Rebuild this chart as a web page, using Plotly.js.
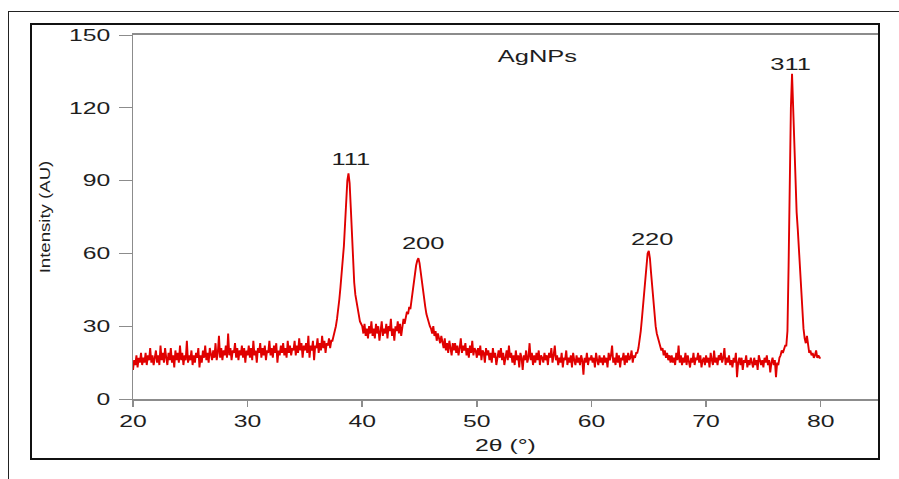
<!DOCTYPE html>
<html>
<head>
<meta charset="utf-8">
<script src="https://cdn.plot.ly/plotly-3.0.1.min.js"></script>
<style>
  html, body { margin: 0; padding: 0; background: #ffffff; }
  #wrap { position: relative; width: 899px; height: 479px; overflow: hidden; background: #ffffff; }
  #chart { position: absolute; left: 0; top: 0; width: 899px; height: 479px; }
  #outer { position: absolute; left: 8px; top: 11px; width: 900px; height: 500px;
           border-left: 1px solid #222; border-top: 1px solid #222; pointer-events: none; }
  #inner { position: absolute; left: 30px; top: 23px; width: 850px; height: 437px; box-sizing: border-box;
           border: 2px solid #111; pointer-events: none; }
</style>
</head>
<body>
<div id="wrap">
  <div id="chart"></div>
  <div id="outer"></div>
  <div id="inner"></div>
</div>
<script>
// ---- data ----
const START_2THETA = 20;     // first 2θ value (°)
const STEP_2THETA = 0.1;     // sampling step (°)
// intensity (AU), one row per degree from 20° to 80°
const intensity = [
  12, 16, 14, 18, 13, 17, 15, 19, 14, 17,
  15, 19, 14, 18, 16, 21, 15, 18, 14, 17,
  20, 15, 18, 14, 22, 16, 19, 15, 21, 17,
  14, 19, 16, 21, 15, 18, 13, 20, 16, 19,
  15, 22, 16, 19, 14, 18, 16, 24, 15, 18,
  16, 20, 14, 18, 15, 19, 17, 21, 13, 18,
  15, 20, 17, 22, 16, 19, 15, 21, 18, 16,
  20, 17, 23, 16, 19, 26, 17, 21, 16, 20,
  18, 22, 17, 27, 18, 21, 16, 20, 19, 23,
  17, 21, 16, 20, 18, 22, 17, 21, 15, 20,
  18, 22, 17, 21, 16, 24, 18, 20, 15, 21,
  19, 23, 17, 21, 18, 22, 16, 20, 19, 24,
  18, 21, 17, 22, 19, 23, 15, 20, 18, 22,
  19, 23, 18, 21, 17, 24, 19, 22, 18, 21,
  20, 24, 18, 22, 19, 25, 20, 23, 17, 22,
  20, 23, 19, 26, 17, 22, 20, 24, 16, 22,
  21, 25, 19, 23, 20, 26, 21, 24, 19, 23,
  22, 25, 21, 24, 24, 26, 27, 30, 33, 36,
  41, 46, 51, 56, 63, 72, 82, 90, 93, 89,
  79, 66, 55, 48, 43, 40, 36, 34, 32, 31,
  30, 27, 31, 26, 29, 25, 30, 27, 32, 26,
  29, 25, 31, 27, 30, 24, 28, 32, 26, 29,
  27, 31, 25, 30, 28, 33, 26, 29, 24, 30,
  28, 32, 27, 31, 26, 30, 33, 31, 34, 36,
  35, 38, 37, 41, 44, 48, 52, 55, 57, 58,
  56, 52, 49, 45, 41, 38, 35, 33, 31, 30,
  29, 27, 30, 26, 28, 24, 27, 25, 23, 26,
  24, 21, 25, 20, 23, 19, 24, 21, 18, 23,
  20, 23, 19, 22, 18, 21, 25, 19, 22, 20,
  23, 18, 21, 17, 22, 19, 24, 18, 21, 20,
  17, 21, 18, 22, 16, 20, 19, 15, 21, 18,
  20, 16, 19, 15, 21, 17, 19, 14, 18, 20,
  17, 21, 16, 19, 14, 18, 20, 16, 22, 17,
  19, 15, 18, 14, 20, 16, 18, 13, 19, 17,
  12, 18, 16, 20, 15, 17, 23, 16, 19, 14,
  18, 15, 19, 16, 20, 14, 18, 17, 15, 19,
  16, 18, 14, 19, 17, 21, 15, 18, 22, 16,
  18, 14, 17, 15, 19, 13, 17, 16, 20, 14,
  17, 15, 18, 13, 19, 16, 14, 18, 15, 17,
  14, 18, 16, 10, 17, 15, 19, 14, 17, 16,
  18, 15, 17, 13, 19, 16, 14, 18, 15, 17,
  14, 18, 15, 17, 13, 19, 16, 18, 22, 15,
  17, 14, 19, 15, 18, 13, 17, 16, 19, 14,
  18, 15, 19, 16, 17, 20, 15, 18, 17, 19,
  19, 21, 24, 28, 33, 38, 43, 49, 55, 60,
  61, 58, 52, 46, 40, 35, 30, 27, 25, 23,
  22, 20, 21, 18, 20, 17, 19, 16, 18, 15,
  18, 15, 17, 14, 19, 16, 22, 15, 18, 14,
  17, 15, 19, 14, 18, 16, 13, 17, 15, 19,
  14, 17, 16, 19, 15, 18, 13, 16, 17, 14,
  18, 15, 17, 13, 19, 16, 14, 20, 15, 17,
  14, 18, 16, 19, 15, 17, 21, 14, 17, 15,
  18, 14, 16, 13, 17, 15, 19, 9, 15, 17,
  14, 17, 12, 16, 15, 18, 13, 16, 14, 17,
  15, 13, 17, 14, 16, 12, 18, 15, 14, 16,
  13, 17, 15, 18, 14, 16, 11, 15, 17, 14,
  16, 9, 15, 14, 17, 18, 20, 19, 21, 22,
  22, 28, 55, 90, 120, 134, 119, 112, 95, 77,
  70, 62, 53, 43, 35, 29, 25, 23, 26, 21,
  19, 20, 18, 19, 17, 18, 20, 17, 18, 17,
  17
];
// peak (hkl) labels and where they sit (data units)
const peakLabels = ['111', '200', '220', '311'];
const peakLabelX = [39.0, 45.33, 65.29, 77.4];
const peakLabelY = [98.5, 63.9, 65.7, 137.8];
// sample label
const sampleLabel = 'AgNPs';
const sampleLabelX = 55.3;
const sampleLabelY = 141.3;
// axes
const xTickVals = [20, 30, 40, 50, 60, 70, 80];
const yTickVals = [0, 30, 60, 90, 120, 150];
const xTitle = '2θ (°)';
const yTitle = 'Intensity (AU)';

// ---- chart ----
const FONT = 'Liberation Sans, Arial, Helvetica, sans-serif';
const TXT = '#1e1e1e';
const AXC = '#8c8c8c';

const trace = {
  type: 'scatter',
  mode: 'lines',
  x0: START_2THETA,
  dx: STEP_2THETA,
  y: intensity,
  line: { color: '#e00000', width: 1.9 },
  hoverinfo: 'x+y',
  showlegend: false
};

const annotations = peakLabels.map((t, i) => ({
  x: peakLabelX[i], y: peakLabelY[i], xref: 'x', yref: 'y',
  text: t, showarrow: false, xanchor: 'center', yanchor: 'middle',
  font: { family: FONT, size: 17, color: TXT }
}));
annotations.push({
  x: sampleLabelX, y: sampleLabelY, xref: 'x', yref: 'y',
  text: sampleLabel, showarrow: false, xanchor: 'center', yanchor: 'middle',
  font: { family: FONT, size: 17, color: TXT }
});

const layout = {
  width: 899, height: 479, autosize: false,
  margin: { l: 133, r: 21, t: 35, b: 80, pad: 0 },
  paper_bgcolor: 'rgba(0,0,0,0)',
  plot_bgcolor: '#ffffff',
  font: { family: FONT, color: TXT, size: 16.5 },
  xaxis: {
    range: [20, 85], tickmode: 'array', tickvals: xTickVals,
    ticks: 'outside', ticklen: 6, tickwidth: 1.5, tickcolor: AXC,
    showline: true, linecolor: AXC, linewidth: 2, mirror: true,
    showgrid: false, zeroline: false,
    tickfont: { family: FONT, size: 16.5, color: TXT },
    title: { text: xTitle, font: { family: FONT, size: 16.5, color: TXT }, standoff: 11 }
  },
  yaxis: {
    range: [0, 150], tickmode: 'array', tickvals: yTickVals,
    ticks: 'outside', ticklen: 13, tickwidth: 1, tickcolor: AXC,
    ticklabelstandoff: 5,
    showline: true, linecolor: AXC, linewidth: 1.5, mirror: true,
    showgrid: false, zeroline: false,
    tickfont: { family: FONT, size: 16.5, color: TXT },
    title: { text: yTitle, font: { family: FONT, size: 15.5, color: TXT }, standoff: 28 }
  },
  annotations: annotations
};

// the reference lettering is wide; widen each label about its own anchor point
function widen(gd) {
  const groups = [
    ['.xtick text', 1.5], ['.ytick text', 1.5], ['.annotation-text', 1.5],
    ['.g-xtitle text', 1.5], ['.g-ytitle text', 1.2]
  ];
  groups.forEach(([sel, s]) => {
    gd.querySelectorAll(sel).forEach(el => {
      const x = parseFloat(el.getAttribute('x')) || 0;
      const y = parseFloat(el.getAttribute('y')) || 0;
      const base = el.getAttribute('data-basetf') !== null ? el.getAttribute('data-basetf') : (el.getAttribute('transform') || '');
      el.setAttribute('data-basetf', base);
      el.setAttribute('transform', (base + ' translate(' + x + ',' + y + ') scale(' + s + ',1) translate(' + (-x) + ',' + (-y) + ')').trim());
    });
  });
}

Plotly.newPlot('chart', [trace], layout, { staticPlot: true, displayModeBar: false })
  .then(gd => widen(gd));
</script>
</body>
</html>
